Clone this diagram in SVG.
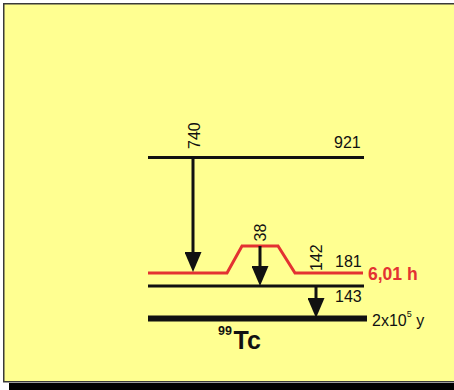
<svg xmlns="http://www.w3.org/2000/svg" width="454" height="390" viewBox="0 0 454 390">
<defs>
<style>
.lbl{font-family:"Liberation Sans",Arial,sans-serif;font-size:16px;fill:#111}
.lvl{stroke:#111;stroke-width:3;fill:none}
.arr{stroke:#111;stroke-width:3;fill:none;marker-end:url(#ah)}
.red{stroke:#E33232;stroke-width:3;fill:none;stroke-linejoin:miter}
</style>
<marker id="ah" viewBox="0 0 20 17" refX="10" refY="8.5" markerWidth="20" markerHeight="17" markerUnits="userSpaceOnUse" orient="auto">
<path d="M0,0 L20,8.5 L0,17 z" fill="#111"/>
</marker>
</defs>
<rect x="0" y="0" width="454" height="390" fill="#ffffff"/>
<rect x="9" y="383" width="450" height="8" fill="#000"/>
<rect x="3.75" y="3.75" width="460" height="378" fill="#FFFF91" stroke="#3a3a3a" stroke-width="1.5"/>

<g id="level-921">
<line class="lvl" x1="148" y1="157.5" x2="364" y2="157.5"/>
<text class="lbl" x="334" y="148">921</text>
</g>
<g id="level-181">
<polyline class="red" points="148,273 227,273 242,246 278,246 295,273 363,273"/>
<text class="lbl" x="335" y="267">181</text>
<text x="368" y="280" style="font-family:'Liberation Sans',Arial,sans-serif;font-size:17.5px;font-weight:bold;fill:#E33232">6,01 h</text>
</g>
<g id="level-143">
<line class="lvl" x1="148" y1="286" x2="364" y2="286"/>
<text class="lbl" x="335" y="302">143</text>
</g>
<g id="level-ground">
<line x1="148" y1="318.5" x2="367" y2="318.5" stroke="#111" stroke-width="6"/>
<text class="lbl" x="372" y="326">2x10<tspan dy="-9" font-size="9">5</tspan><tspan dy="9"> y</tspan></text>
<text x="218" y="335" style="font-family:'Liberation Sans',Arial,sans-serif;font-size:12.5px;font-weight:bold;fill:#111">99</text>
<text x="233.5" y="349" style="font-family:'Liberation Sans',Arial,sans-serif;font-size:25px;font-weight:bold;fill:#111">Tc</text>
</g>
<g id="connectors">
<line class="arr" x1="193" y1="157" x2="193" y2="262"/>
<line class="arr" x1="260" y1="246" x2="260" y2="276"/>
<line class="arr" x1="316" y1="286" x2="316" y2="308"/>
<text class="lbl" transform="translate(200,149) rotate(-90)">740</text>
<text class="lbl" transform="translate(266,241.5) rotate(-90)">38</text>
<text class="lbl" transform="translate(322,271) rotate(-90)">142</text>
</g>
</svg>
